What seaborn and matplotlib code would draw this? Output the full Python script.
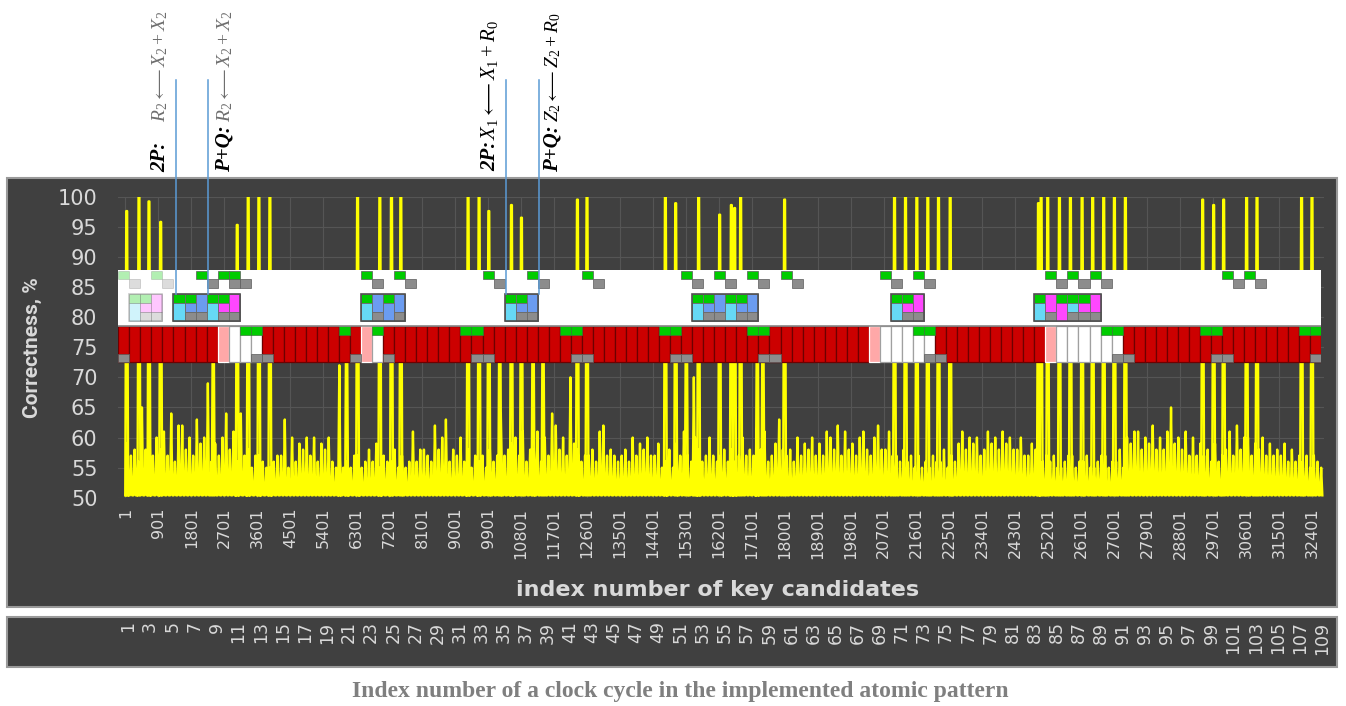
import matplotlib
matplotlib.use('Agg')
import matplotlib.pyplot as plt
from matplotlib.patches import Rectangle
import pandas as pd
import seaborn as sns

W, H = 1346, 706

# ---------------- data ----------------
cycles = list(range(1, 110))
key_ticks = list(range(1, 32402, 900))
corr_ticks = list(range(50, 101, 5))
cycle_ticks = list(range(1, 110, 2))
samples_per_cycle = 300

# tall correctness spikes (key candidate index, peak %)
peak_idx = [34, 369, 642, 962, 2397, 3052, 3352, 3644, 3944, 6038, 6338, 6946,
            7265, 7519, 9356, 9656, 9921, 10221, 10540, 10813, 11130, 11402,
            12341, 12603, 14743, 15024, 15316, 15651, 16225, 16544, 16634, 16798,
            17253, 17406, 17998, 21000, 21300, 21609, 21909, 22201, 22520, 24930,
            25003, 25183, 25503, 25803, 26122, 26411, 26712, 27004, 27304, 29414,
            29714, 29987, 30614, 30898, 32115, 32399, 5840, 15520]
peak_val = [97.6, 100, 99.2, 95.8, 80, 95.3, 100, 100, 100, 80, 100, 100,
            100, 100, 100, 100, 97.6, 82, 98.6, 96.5, 82, 80,
            99.5, 100, 100, 98.9, 82, 100, 97, 98.6, 98.1, 100,
            80, 80, 99.5, 100, 100, 100, 100, 100, 100, 98.9,
            100, 100, 100, 100, 100, 100, 100, 100, 100, 99.5,
            98.6, 99.5, 100, 100, 100, 100, 72, 70]

# smaller correctness peaks, three per clock cycle
noise_a = [59, 56, 66, 58, 64, 62, 57, 60, 59, 64, 56, 58, 57, 55, 57, 60, 58, 60, 58, 55,
           56, 57, 58, 55, 56, 57, 61, 58, 62, 63, 57, 58, 56, 58, 64, 59, 61, 58, 60, 62,
           57, 58, 57, 61, 58, 57, 60, 58, 57, 56, 59, 57, 58, 60, 57, 58, 60, 57, 61, 59,
           57, 60, 58, 59, 60, 57, 59, 61, 60, 58, 57, 56, 57, 55, 56, 57, 61, 59, 58, 60,
           59, 58, 57, 58, 56, 55, 57, 56, 55, 57, 56, 60, 61, 59, 60, 65, 58, 60, 57, 59,
           58, 62, 60, 58, 59, 57, 58, 56, 57]
noise_b = [57, 65, 57, 61, 56, 58, 63, 69, 57, 58, 64, 55, 56, 56, 63, 56, 60, 56, 60, 57,
           55, 55, 56, 57, 58, 55, 56, 57, 58, 56, 60, 55, 57, 56, 57, 60, 56, 61, 57, 58,
           70, 56, 58, 62, 57, 58, 57, 60, 59, 58, 57, 56, 56, 57, 58, 56, 57, 62, 56, 63,
           58, 57, 60, 57, 58, 61, 57, 58, 62, 61, 56, 57, 55, 57, 58, 56, 58, 60, 61, 58,
           60, 60, 59, 56, 57, 56, 55, 57, 56, 55, 58, 59, 58, 62, 58, 59, 61, 57, 58, 56,
           61, 58, 57, 60, 57, 59, 56, 57, 56]
noise_c = [58, 58, 60, 57, 62, 60, 59, 56, 60, 61, 57, 57, 55, 57, 55, 59, 57, 59, 56, 55,
           57, 56, 59, 56, 55, 56, 58, 56, 60, 58, 56, 57, 55, 57, 58, 57, 58, 56, 64, 60,
           59, 57, 56, 57, 56, 56, 59, 57, 55, 55, 61, 60, 57, 56, 56, 57, 58, 58, 57, 58,
           56, 59, 57, 61, 62, 58, 60, 57, 58, 57, 58, 55, 56, 56, 55, 59, 60, 57, 59, 61,
           58, 57, 58, 57, 55, 57, 56, 55, 57, 56, 55, 61, 60, 58, 61, 60, 57, 59, 56, 57,
           57, 60, 59, 57, 58, 56, 57, 55, 55]

# clock-cycle band (bottom row of the overlay)
pink_cycles = [10, 23, 69, 85]
white_cycles = [11, 12, 13, 24, 70, 71, 72, 73, 74, 86, 87, 88, 89, 90, 91]
band_green = [12, 13, 21, 24, 32, 33, 41, 42, 50, 51, 58, 59, 73, 74, 90, 91, 99, 100, 108, 109]
band_gray = [1, 13, 14, 22, 25, 33, 34, 42, 43, 51, 52, 59, 60, 74, 75, 91, 92, 100, 101, 109]

# upper row: green cell followed by a grey cell one cycle later
upper_green = [8, 10, 11, 23, 26, 34, 38, 43, 52, 55, 58, 61, 70, 73, 85, 87, 89, 101, 103]
upper_green_faded = [1, 4]

# middle row blocks: top / middle / bottom cell per cycle
block_cells = {2: 'GCC', 3: 'GMg', 4: 'MMg',
               6: 'GCC', 7: 'GBg', 8: 'BBg', 9: 'GCC', 10: 'GMg', 11: 'MMg',
               23: 'GCC', 24: 'BBg', 25: 'GBB', 26: 'BBg',
               36: 'GCC', 37: 'GBg', 38: 'BBg',
               53: 'GCC', 54: 'GBg', 55: 'BBg', 56: 'GCC', 57: 'GBg', 58: 'BBg',
               71: 'GCC', 72: 'GMg', 73: 'MMg',
               84: 'GCC', 85: 'MMg', 86: 'GMM', 87: 'GCg', 88: 'GMg', 89: 'MMg'}
faded_cycles = [2, 3, 4]

marker_cycles = [5.2, 8.13, 35.1, 38.1]

cell_colors = {'G': '#00cc00', 'C': '#66d9f5', 'B': '#6b9cf0', 'M': '#ff47ff', 'g': '#8c8c8c'}

# ---------------- figure ----------------
plt.rcParams['mathtext.fontset'] = 'custom'
plt.rcParams['mathtext.rm'] = 'Liberation Serif'
plt.rcParams['mathtext.it'] = 'Liberation Serif:italic'
plt.rcParams['mathtext.bf'] = 'Liberation Serif:bold'

fig = plt.figure(figsize=(W / 100, H / 100), dpi=100)
fig.patch.set_facecolor('white')


def box(x0, y0, x1, y1):
    return [x0 / W, 1 - y1 / H, (x1 - x0) / W, (y1 - y0) / H]


def fx(x):
    return x / W


def fy(y):
    return 1 - y / H


for (x0, y0, x1, y1) in [(7, 178, 1337, 607), (7, 617, 1337, 667)]:
    fig.patches.append(Rectangle((fx(x0), fy(y1)), (x1 - x0) / W, (y1 - y0) / H,
                                 transform=fig.transFigure, facecolor='#404040',
                                 edgecolor='#9a9a9a', linewidth=1.5, zorder=-5))

# main correctness plot
ax = fig.add_axes(box(118.3, 196.6, 1324, 497.8))
ax.set_facecolor('none')

rows = []
for k, a, b, c in zip(cycles, noise_a, noise_b, noise_c):
    base = (k - 1) * samples_per_cycle
    rows += [(base + 50, a), (base + 150, b), (base + 250, c)]
rows += list(zip(peak_idx, peak_val))
rows.sort()
xs, ys = [], []
for p, h in rows:
    if h > 75:
        xs += [p - 40, p - 12, p + 12, p + 40]
        ys += [50.4, h, h, 50.4]
    else:
        xs += [p - 32, p, p + 32]
        ys += [50.4, h, 50.4]
sig = pd.DataFrame({'key': xs, 'corr': ys})
sns.lineplot(data=sig, x='key', y='corr', ax=ax, color='#ffff00', linewidth=1.7,
             estimator=None, sort=False, zorder=3)

ax.set_xlim(-195.5, 32727)
ax.set_ylim(50, 100)
ax.set_xticks(key_ticks)
ax.set_xticklabels([str(t) for t in key_ticks])
ax.set_yticks(corr_ticks)
ax.tick_params(axis='x', colors='#d9d9d9', labelsize=11.5, length=0, pad=7, labelrotation=90)
ax.tick_params(axis='y', colors='#d9d9d9', labelsize=15, length=0, pad=15)
ax.grid(True, color='#555555', linewidth=0.8, zorder=0)
ax.set_axisbelow(True)
ax.set_xlabel('')
ax.set_ylabel('')
for s in ax.spines.values():
    s.set_visible(False)

# overlay of clock-cycle bands (x in cycles, y in pixels)
ov = fig.add_axes(box(118.3, 0, 1321.3, H))
ov.set_xlim(0, 109)
ov.set_ylim(H, 0)
ov.axis('off')
ov.patch.set_alpha(0)

ov.add_patch(Rectangle((0, 270), 109, 56, facecolor='white', edgecolor='none'))

for k in cycles:
    if k in pink_cycles:
        fc, ec = '#ffa8a8', 'white'
    elif k in white_cycles:
        fc, ec = 'white', '#a0a0a0'
    else:
        fc, ec = '#cc0000', '#6e0000'
    ov.add_patch(Rectangle((k - 1, 326), 1, 36, facecolor=fc, edgecolor=ec, linewidth=0.9))
for k in band_green:
    ov.add_patch(Rectangle((k - 1, 326), 1, 8.5, facecolor='#00cc00', edgecolor='#3a7a3a', linewidth=0.5))
for k in band_gray:
    ov.add_patch(Rectangle((k - 1, 353.5), 1, 8.5, facecolor='#8c8c8c', edgecolor='#5a5a5a', linewidth=0.5))
ov.plot([0, 109], [325.5, 325.5], color='#8c8c8c', linewidth=1.2)

for k in upper_green + upper_green_faded:
    al = 0.3 if k in upper_green_faded else 1
    ov.add_patch(Rectangle((k - 1, 271), 1, 8, facecolor='#00cc00', edgecolor='#5a5a5a',
                           linewidth=0.5, alpha=al))
    ov.add_patch(Rectangle((k, 279), 1, 9, facecolor='#8c8c8c', edgecolor='#5a5a5a',
                           linewidth=0.5, alpha=al))

row_y = [294, 303, 312, 321]
for k, spec in block_cells.items():
    al = 0.3 if k in faded_cycles else 1
    i = 0
    while i < 3:
        j = i
        while j + 1 < 3 and spec[j + 1] == spec[i]:
            j += 1
        ov.add_patch(Rectangle((k - 1, row_y[i]), 1, row_y[j + 1] - row_y[i],
                               facecolor=cell_colors[spec[i]], edgecolor='#6a6a6a',
                               linewidth=0.6, alpha=al))
        i = j + 1

# outline each block of consecutive cycles
keys = sorted(block_cells)
start = keys[0]
for a, b in zip(keys, keys[1:] + [None]):
    if b != a + 1:
        al = 0.3 if a in faded_cycles else 1
        ov.add_patch(Rectangle((start - 1, row_y[0]), a - start + 1, row_y[-1] - row_y[0],
                               facecolor='none', edgecolor='#505050', linewidth=1.2, alpha=al))
        start = b

for c in marker_cycles:
    ov.plot([c, c], [80, 294], color='#5b9bd5', linewidth=1.1)

# cycle index axis
cx = fig.add_axes(box(122.5, 619, 1327.5, 620))
cx.set_facecolor('none')
cx.set_xlim(0.5, 109.5)
cx.set_xticks(cycle_ticks)
cx.set_xticklabels([str(t) for t in cycle_ticks])
cx.set_yticks([])
cx.tick_params(axis='x', colors='#d9d9d9', labelsize=12.5, length=0, pad=1, labelrotation=90)
for s in cx.spines.values():
    s.set_visible(False)

# labels
fig.text(fx(718), fy(590), 'index number of key candidates', ha='center', va='center',
         fontsize=16, fontweight='bold', color='#d9d9d9')
fig.text(fx(32), fy(348), 'Correctness, %', ha='center', va='center', rotation=90,
         fontsize=15, fontweight='bold', color='#d9d9d9', family='Roboto')
fig.text(fx(680), fy(691), 'Index number of a clock cycle in the implemented atomic pattern',
         ha='center', va='center', fontsize=17, fontweight='bold', color='#7f7f7f',
         family='Liberation Serif')

notes = [(160, 172, '2P:', 122, r'$R_2 \longleftarrow X_2 + X_2$', '#6e6e6e', 14),
         (225, 172, 'P+Q:', 122, r'$R_2 \longleftarrow X_2 + X_2$', '#6e6e6e', 14),
         (490, 171, '2P:', 140, r'$X_1 \longleftarrow X_1 + R_0$', 'black', 15),
         (553, 172, 'P+Q:', 122, r'$Z_2 \longleftarrow Z_2 + R_0$', 'black', 14)]
for x, y0, pre, y1, formula, col, fs in notes:
    fig.text(fx(x), fy(y0), pre, rotation=90, rotation_mode='anchor', ha='left', va='center',
             fontsize=15, fontweight='bold', fontstyle='italic', family='Liberation Serif',
             color='black')
    fig.text(fx(x), fy(y1), formula, rotation=90, rotation_mode='anchor', ha='left', va='center',
             fontsize=fs, color=col)

fig.savefig('out.png', dpi=100)
